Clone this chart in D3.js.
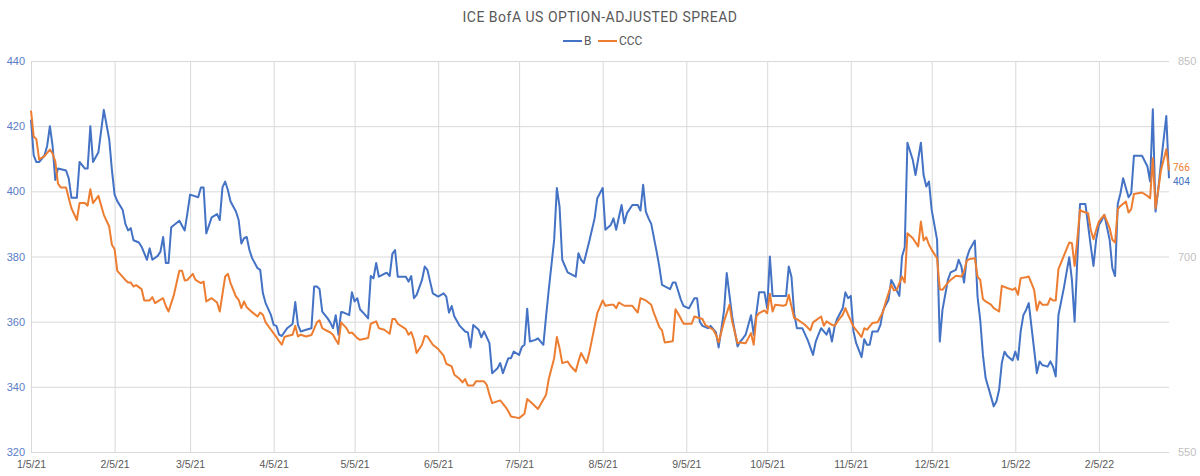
<!DOCTYPE html>
<html><head><meta charset="utf-8">
<script src="https://cdn.jsdelivr.net/npm/d3@7"></script>
<style>
body{margin:0;background:#fff;}
svg{display:block;font-family:Roboto, "DejaVu Sans", sans-serif;}
</style></head>
<body><svg id="c" width="1200" height="476"></svg>
<script>
const title = "ICE BofA US OPTION-ADJUSTED SPREAD";
const seriesNames = ["B", "CCC"];
const xTickLabels = ["1/5/21","2/5/21","3/5/21","4/5/21","5/5/21","6/5/21","7/5/21","8/5/21","9/5/21","10/5/21","11/5/21","12/5/21","1/5/22","2/5/22"];
const leftTicks = [320,340,360,380,400,420,440];
const rightTicks = [550,700,850];

const bDates = ["2021-01-05","2021-01-06","2021-01-07","2021-01-08","2021-01-10","2021-01-11","2021-01-12","2021-01-13","2021-01-14","2021-01-15","2021-01-18","2021-01-19","2021-01-20","2021-01-22","2021-01-23","2021-01-25","2021-01-26","2021-01-27","2021-01-28","2021-01-30",
"2021-02-01","2021-02-03","2021-02-04","2021-02-05","2021-02-06","2021-02-08","2021-02-09","2021-02-10","2021-02-11","2021-02-12","2021-02-14","2021-02-15","2021-02-17","2021-02-18","2021-02-19","2021-02-21","2021-02-22","2021-02-23","2021-02-24","2021-02-25","2021-02-26",
"2021-03-01","2021-03-03","2021-03-04","2021-03-05","2021-03-08","2021-03-09","2021-03-10","2021-03-11","2021-03-13","2021-03-15","2021-03-16","2021-03-17","2021-03-18","2021-03-19","2021-03-20","2021-03-22","2021-03-23","2021-03-24","2021-03-25","2021-03-26","2021-03-27","2021-03-28","2021-03-30","2021-03-31",
"2021-04-01","2021-04-02","2021-04-04","2021-04-05","2021-04-06","2021-04-07","2021-04-08","2021-04-10","2021-04-12","2021-04-13","2021-04-14","2021-04-15","2021-04-17","2021-04-19","2021-04-20","2021-04-21","2021-04-22","2021-04-23","2021-04-25","2021-04-26","2021-04-27","2021-04-28","2021-04-29","2021-04-30",
"2021-05-01","2021-05-03","2021-05-04","2021-05-05","2021-05-06","2021-05-07","2021-05-09","2021-05-10","2021-05-11","2021-05-12","2021-05-13","2021-05-14","2021-05-16","2021-05-17","2021-05-18","2021-05-19","2021-05-20","2021-05-21","2021-05-24","2021-05-25","2021-05-26","2021-05-27","2021-05-28","2021-05-30","2021-05-31",
"2021-06-01","2021-06-03","2021-06-05","2021-06-07","2021-06-08","2021-06-09","2021-06-10","2021-06-11","2021-06-13","2021-06-15","2021-06-16","2021-06-17","2021-06-18","2021-06-20","2021-06-21","2021-06-22","2021-06-24","2021-06-25","2021-06-27","2021-06-28","2021-06-29",
"2021-07-01","2021-07-02","2021-07-03","2021-07-05","2021-07-06","2021-07-07","2021-07-08","2021-07-09","2021-07-11","2021-07-12","2021-07-14","2021-07-15","2021-07-16","2021-07-18","2021-07-19","2021-07-20","2021-07-21","2021-07-23","2021-07-26","2021-07-27","2021-07-28","2021-07-29","2021-07-31",
"2021-08-02","2021-08-03","2021-08-05","2021-08-06","2021-08-08","2021-08-09","2021-08-10","2021-08-12","2021-08-13","2021-08-14","2021-08-16","2021-08-18","2021-08-19","2021-08-20","2021-08-21","2021-08-22","2021-08-23","2021-08-25","2021-08-26","2021-08-27","2021-08-30","2021-08-31",
"2021-09-01","2021-09-03","2021-09-04","2021-09-06","2021-09-08","2021-09-09","2021-09-10","2021-09-11","2021-09-13","2021-09-14","2021-09-16","2021-09-17","2021-09-19","2021-09-20","2021-09-22","2021-09-24","2021-09-25","2021-09-26","2021-09-27","2021-09-29","2021-09-30",
"2021-10-01","2021-10-02","2021-10-04","2021-10-05","2021-10-06","2021-10-07","2021-10-10","2021-10-12","2021-10-13","2021-10-14","2021-10-15","2021-10-16","2021-10-18","2021-10-20","2021-10-22","2021-10-23","2021-10-24","2021-10-25","2021-10-27","2021-10-28","2021-10-29","2021-10-30","2021-10-31",
"2021-11-02","2021-11-03","2021-11-04","2021-11-05","2021-11-06","2021-11-07","2021-11-09","2021-11-10","2021-11-11","2021-11-12","2021-11-13","2021-11-15","2021-11-16","2021-11-17","2021-11-19","2021-11-20","2021-11-21","2021-11-23","2021-11-24","2021-11-25","2021-11-26","2021-11-28","2021-11-29",
"2021-12-01","2021-12-02","2021-12-03","2021-12-04","2021-12-05","2021-12-07","2021-12-08","2021-12-09","2021-12-11","2021-12-12","2021-12-14","2021-12-15","2021-12-16","2021-12-17","2021-12-18","2021-12-19","2021-12-21","2021-12-22","2021-12-23","2021-12-24","2021-12-25","2021-12-27","2021-12-28","2021-12-29","2021-12-30","2021-12-31",
"2022-01-01","2022-01-02","2022-01-04","2022-01-05","2022-01-06","2022-01-07","2022-01-08","2022-01-09","2022-01-10","2022-01-11","2022-01-13","2022-01-14","2022-01-15","2022-01-17","2022-01-18","2022-01-19","2022-01-20","2022-01-21","2022-01-23","2022-01-25","2022-01-26","2022-01-27","2022-01-28","2022-01-29","2022-01-31",
"2022-02-02","2022-02-03","2022-02-04","2022-02-05","2022-02-06","2022-02-07","2022-02-09","2022-02-10","2022-02-11","2022-02-12","2022-02-13","2022-02-14","2022-02-16","2022-02-17","2022-02-18","2022-02-21","2022-02-23","2022-02-24","2022-02-25","2022-02-26","2022-02-27","2022-02-28","2022-03-02","2022-03-03"];
const bValues = [422,411,409,409,411,414,420,414,403.5,407,406.4,404,398,398,409,407,407,420,409,412,
425,416,406.6,399,397,394.3,390,388,388.7,385,384.3,383,379,382.5,379,380.2,381.5,386,378,378,389,
391,388,393.3,399,398.2,401.2,401.2,387.1,392,393,391.2,401.2,403,400.4,396.9,393.8,391.2,384,385.6,386,382,379.5,376.4,375.9,
368.7,365.7,362,359,358.7,356,355.6,358,359.3,366,359,357,357.5,358,370.8,370.8,370,363.1,361,359.7,358,362,356,363,
362.8,362,369,366.2,367.2,363.8,362,361,374,373.3,378,373.8,374.7,375,374,380.8,382,373.8,373.8,372.3,374,367.2,368.2,372.8,376.9,
375.9,368.7,367.7,368.7,367.7,362.8,364.8,361.6,358.7,357,356.7,352.1,359,357.5,355.2,357,353.4,344.2,345.7,347.3,344.2,
348.8,348.8,350.8,349.8,352.2,352.9,364,353.9,354.4,354.9,352.9,361.6,369.8,385.1,401,395.3,379,375.1,373.8,381,379,378,384.6,
391.7,397.9,401,388.2,389.7,391.7,388.2,395.8,390.2,393.3,395.8,395.8,394.1,402,393.8,391.7,390,381.5,376.9,371.3,370,372,
372,366.7,364.8,364.1,367.2,367.2,360,358.7,358,358.7,356.7,352.1,363.4,374.9,361.6,352.4,353.9,354.9,356,362,356,
362.6,369,369,364.1,380,367.9,367.9,367.9,376.9,373.8,362.6,358,358,354.4,349.8,353.9,356,358,356,358,353.9,358.5,361,
364.1,369,367.2,367.9,357,353.4,349.1,354.6,352.9,352.9,357,357,359,363.6,366.7,372.8,371.3,367.9,380,382.8,414.9,409.6,405,
414.9,405,401.5,403,394.3,385.1,353.9,363.6,372.8,375.1,375.9,379,377,372,379.5,382,384.9,367.7,360.5,349.8,342.7,337,334,335.5,339.1,347.3,
350.8,349.5,348.1,350.8,348.3,357,362,363.6,365.7,358.5,344.2,347.8,346.7,346.2,347.8,346.2,343.2,362,370.3,379.8,372.8,360,379,396.1,396.1,
383.1,377.1,385.3,389.7,391,392.8,385.1,376.4,374,396.1,399.4,404,398.2,399.4,410.9,410.9,407.6,403,425.2,393.8,400.4,408.6,423.1,404];

const cccDates = ["2021-01-05","2021-01-06","2021-01-07","2021-01-08","2021-01-10","2021-01-12","2021-01-13","2021-01-14","2021-01-15","2021-01-16","2021-01-18","2021-01-19","2021-01-20","2021-01-22","2021-01-23","2021-01-25","2021-01-26","2021-01-27","2021-01-28","2021-01-30",
"2021-02-01","2021-02-03","2021-02-04","2021-02-05","2021-02-06","2021-02-07","2021-02-09","2021-02-10","2021-02-11","2021-02-12","2021-02-13","2021-02-15","2021-02-16","2021-02-18","2021-02-19","2021-02-20","2021-02-21","2021-02-23","2021-02-24","2021-02-25","2021-02-27",
"2021-03-01","2021-03-02","2021-03-03","2021-03-04","2021-03-06","2021-03-07","2021-03-09","2021-03-10","2021-03-11","2021-03-13","2021-03-15","2021-03-16","2021-03-18","2021-03-19","2021-03-20","2021-03-22","2021-03-23","2021-03-24","2021-03-25","2021-03-26","2021-03-28","2021-03-30","2021-03-31",
"2021-04-01","2021-04-02","2021-04-04","2021-04-06","2021-04-07","2021-04-08","2021-04-09","2021-04-10","2021-04-12","2021-04-13","2021-04-14","2021-04-15","2021-04-17","2021-04-19","2021-04-21","2021-04-22","2021-04-23","2021-04-24","2021-04-26","2021-04-27","2021-04-28","2021-04-29","2021-04-30",
"2021-05-02","2021-05-03","2021-05-04","2021-05-06","2021-05-07","2021-05-10","2021-05-11","2021-05-13","2021-05-14","2021-05-16","2021-05-18","2021-05-19","2021-05-20","2021-05-21","2021-05-24","2021-05-25","2021-05-26","2021-05-27","2021-05-28","2021-05-30","2021-05-31",
"2021-06-01","2021-06-03","2021-06-05","2021-06-07","2021-06-08","2021-06-10","2021-06-11","2021-06-13","2021-06-14","2021-06-15","2021-06-16","2021-06-18","2021-06-19","2021-06-22","2021-06-23","2021-06-24","2021-06-25","2021-06-28","2021-06-30",
"2021-07-01","2021-07-02","2021-07-05","2021-07-07","2021-07-08","2021-07-10","2021-07-12","2021-07-15","2021-07-16","2021-07-18","2021-07-19","2021-07-20","2021-07-21","2021-07-23","2021-07-24","2021-07-26","2021-07-27","2021-07-28","2021-07-30","2021-07-31",
"2021-08-02","2021-08-03","2021-08-05","2021-08-06","2021-08-08","2021-08-09","2021-08-10","2021-08-11","2021-08-13","2021-08-15","2021-08-16","2021-08-18","2021-08-19","2021-08-21","2021-08-23","2021-08-24","2021-08-26","2021-08-27","2021-08-28","2021-08-31",
"2021-09-01","2021-09-02","2021-09-04","2021-09-07","2021-09-08","2021-09-11","2021-09-12","2021-09-15","2021-09-16","2021-09-17","2021-09-19","2021-09-21","2021-09-22","2021-09-24","2021-09-25","2021-09-27","2021-09-29","2021-09-30",
"2021-10-01","2021-10-02","2021-10-04","2021-10-05","2021-10-06","2021-10-07","2021-10-08","2021-10-11","2021-10-12","2021-10-13","2021-10-15","2021-10-16","2021-10-19","2021-10-21","2021-10-22","2021-10-25","2021-10-26","2021-10-27","2021-10-29","2021-10-30",
"2021-11-01","2021-11-02","2021-11-03","2021-11-04","2021-11-06","2021-11-09","2021-11-10","2021-11-11","2021-11-13","2021-11-15","2021-11-17","2021-11-18","2021-11-20","2021-11-21","2021-11-22","2021-11-24","2021-11-25","2021-11-26","2021-11-28","2021-11-30",
"2021-12-01","2021-12-02","2021-12-03","2021-12-04","2021-12-05","2021-12-07","2021-12-08","2021-12-09","2021-12-11","2021-12-12","2021-12-14","2021-12-16","2021-12-17","2021-12-18","2021-12-19","2021-12-21","2021-12-22","2021-12-23","2021-12-24","2021-12-25","2021-12-27","2021-12-28","2021-12-30","2021-12-31",
"2022-01-02","2022-01-04","2022-01-05","2022-01-06","2022-01-07","2022-01-09","2022-01-10","2022-01-12","2022-01-13","2022-01-14","2022-01-15","2022-01-17","2022-01-18","2022-01-19","2022-01-20","2022-01-21","2022-01-23","2022-01-25","2022-01-26","2022-01-27","2022-01-28","2022-01-29","2022-01-30",
"2022-02-01","2022-02-02","2022-02-03","2022-02-04","2022-02-05","2022-02-06","2022-02-07","2022-02-09","2022-02-10","2022-02-11","2022-02-12","2022-02-13","2022-02-15","2022-02-16","2022-02-17","2022-02-18","2022-02-21","2022-02-23","2022-02-24","2022-02-25","2022-02-26","2022-02-27","2022-02-28","2022-03-02","2022-03-03"];
const cccValues = [812,792,790,774.6,777,782,779,773,756,753,753,744.7,737,728,741,741,739,751.6,741,746.5,
732,723,709,705.6,689,686.7,682,680,680,677,678,675,666.3,666.3,668.8,664.2,665.5,668,662,657.8,670.6,
689,689,681.6,682,686.7,682,679.6,680.8,665.5,668,664.7,657.8,684.6,686.7,679.6,669.3,666.8,660.4,665.5,661,657.3,654,657,
655.3,649.5,643.8,638.2,635,632.3,638.2,639,640,646.8,638.6,640,638.6,639.7,649.5,651,645,643.8,641.7,640,636.1,633,649.5,
645,641.2,641.7,637.4,636.1,637.4,648.4,650.2,645,643.8,640.7,652,652,648.4,644.3,640,642,636.1,625.9,632.3,639,
638.6,632.3,629,623.9,617.7,615.7,609.3,606,603.4,606,601,601,604.2,604.2,601.6,594,587.5,589.6,584.5,
581.2,577.3,576,579.4,590.6,587,583,594,606,622,638.2,629.7,618.2,619.5,616.2,611.8,619.5,625.9,618.2,625.9,
646.3,656.5,666.3,662.2,663,663,660.4,664.7,662.2,662.2,662.2,657,668,666.3,663,656.5,645.8,643.3,634.1,635,
659.6,656,648.4,648.4,654,652,647.6,643.8,640,634.1,650.2,663,650.2,633.5,634.1,633.5,641.2,632.3,
654,656.5,658.6,656.5,671.4,657.8,663,662.2,663,670.6,652.8,652,647.6,643.3,649.5,654,646.8,650.2,647.6,646.8,
652.8,655.3,660.4,655.3,646.3,638.2,645,643.8,648.9,649.5,657.8,665.5,678.3,674,674.4,684.6,680,717.9,714,707.7,
726.8,712.3,714.8,709,705.1,698.7,674.9,674.4,680,682,685.2,684.6,688.5,696.9,698,698.7,684.6,682,667.3,665.5,663,660.4,657.8,677.5,
675.8,674.4,675.8,670.6,683.4,684.1,684.6,674.4,658.6,665.5,663,663,668,666.3,666.3,690.3,700.5,710.7,710.2,692.8,713.3,735.8,734.5,
733.2,720.4,713.3,720.4,726.8,729.4,731.9,721.7,712.8,710.7,736.3,738.8,742.2,733.7,736.3,748,749.1,746.5,744.7,775.4,737,751.1,765.9,782.3,766];

const blue = "#4472c4", orange = "#ed7d31";
const parse = d3.timeParse("%Y-%m-%d");
const parseTick = d3.timeParse("%m/%d/%y");
const bData = bDates.map((d,i)=>({date:parse(d), v:bValues[i]}));
const cData = cccDates.map((d,i)=>({date:parse(d), v:cccValues[i]}));

const svg = d3.select("#c");
const L = 31, R = 1169, T = 61, B = 452;
const x = d3.scaleTime().domain([bData[0].date, bData[bData.length-1].date]).range([L, R]);
const yB = d3.scaleLinear().domain([320, 440]).range([B, T]);
const yC = d3.scaleLinear().domain([550, 850]).range([B, T]);

// horizontal gridlines + left axis
const gl = svg.append("g").attr("transform", `translate(${L},0)`)
  .call(d3.axisLeft(yB).tickValues(leftTicks).tickSize(-(R-L)).tickPadding(6).tickFormat(d3.format("d")));
gl.select(".domain").remove();
gl.selectAll("line").attr("stroke", "#d9d9d9");
gl.selectAll("text").attr("fill", "#5b7cc6").attr("font-size", 11).attr("x", -6);

// vertical gridlines + x axis
const xTicks = xTickLabels.map(s=>parseTick(s));
const gx = svg.append("g").attr("transform", `translate(0,${B})`)
  .call(d3.axisBottom(x).tickValues(xTicks).tickSize(-(B-T)).tickPadding(9).tickFormat((d,i)=>xTickLabels[i]));
gx.select(".domain").remove();
gx.selectAll("line").attr("stroke", "#d9d9d9");
gx.selectAll("text").attr("fill", "#595959").attr("font-size", 10.5);

// right axis
const gr = svg.append("g").attr("transform", `translate(${R},0)`)
  .call(d3.axisRight(yC).tickValues(rightTicks).tickSize(0).tickPadding(9).tickFormat(d3.format("d")));
gr.select(".domain").remove();
gr.selectAll("text").attr("fill", "#bfbfbf").attr("font-size", 11);

// lines
const lineB = d3.line().x(d=>x(d.date)).y(d=>yB(d.v));
const lineC = d3.line().x(d=>x(d.date)).y(d=>yC(d.v));
svg.append("path").datum(bData).attr("d", lineB).attr("fill","none").attr("stroke", blue).attr("stroke-width", 2).attr("stroke-linejoin","round");
svg.append("path").datum(cData).attr("d", lineC).attr("fill","none").attr("stroke", orange).attr("stroke-width", 2).attr("stroke-linejoin","round");

// end labels (nudged apart so they do not collide)
const lastB = bData[bData.length-1], lastC = cData[cData.length-1];
svg.append("text").attr("x", R+4).attr("y", yC(lastC.v) - 2.5).attr("dy","0.35em").attr("fill", orange).attr("font-size", 10).text(d3.format("d")(lastC.v));
svg.append("text").attr("x", R+4).attr("y", yB(lastB.v) + 3).attr("dy","0.35em").attr("fill", blue).attr("font-size", 10).text(d3.format("d")(lastB.v));

// title
svg.append("text").attr("x", 600).attr("y", 22).attr("text-anchor","middle").attr("fill","#595959")
  .attr("font-size", 14).attr("letter-spacing", 0.5).text(title);

// legend
const lg = svg.append("g");
const items = [{n:seriesNames[0], c:blue, x:563},{n:seriesNames[1], c:orange, x:598}];
items.forEach(it=>{
  lg.append("line").attr("x1", it.x).attr("x2", it.x+19).attr("y1", 41).attr("y2", 41).attr("stroke", it.c).attr("stroke-width", 2);
  lg.append("text").attr("x", it.x+21).attr("y", 41).attr("dy","0.35em").attr("fill","#595959").attr("font-size", 12).text(it.n);
});
</script></body></html>
